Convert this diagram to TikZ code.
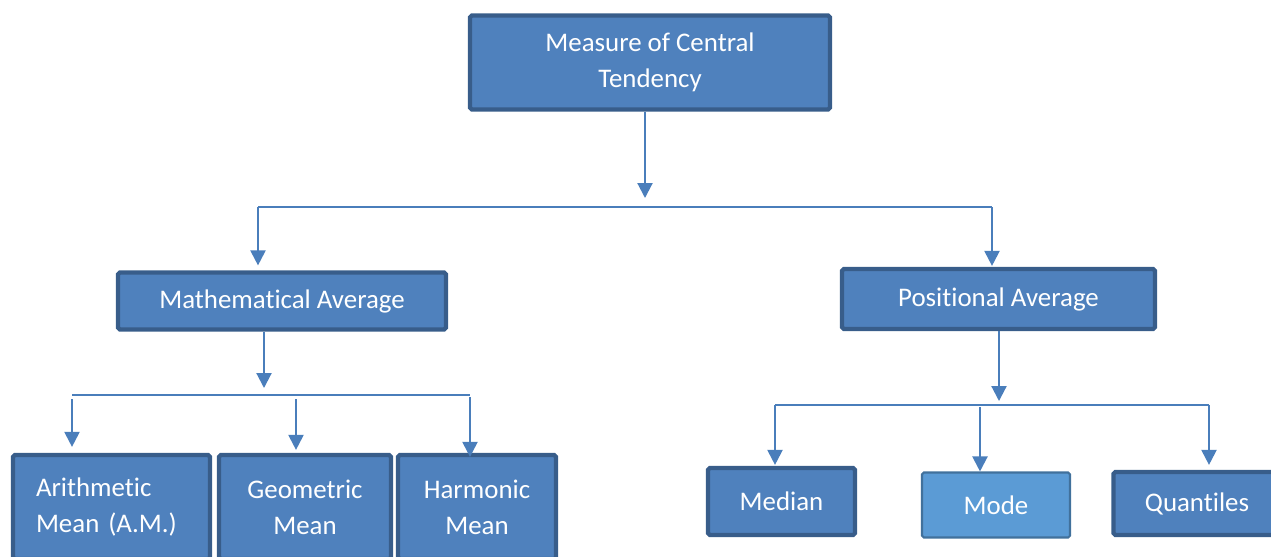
\documentclass[tikz,border=0pt]{standalone}
\usepackage{fontspec}
\setmainfont{Carlito}[RawFeature={-liga;-clig;-calt;-dlig}]
\usetikzlibrary{arrows.meta}
\definecolor{boxfill}{RGB}{79,129,189}
\definecolor{boxline}{RGB}{56,93,138}
\definecolor{modefill}{RGB}{91,155,213}
\definecolor{modeline}{RGB}{65,113,156}
\definecolor{wirecol}{RGB}{74,126,187}

\begin{document}
\begin{tikzpicture}[
        x=0.02cm, y=-0.02cm,
        every node/.style = {rectangle, rounded corners=1pt, text=white, align=center,
          font=\fontsize{15.3}{20.5}\selectfont},
        box/.style = {draw=boxline, fill=boxfill, line width=2.4pt},
        lightbox/.style = {draw=modeline, fill=modefill, line width=1.2pt},
        wire/.style = {draw=wirecol, line width=1.2pt},
        arrow/.style = {wire, -{Triangle[width=0.3cm, length=0.3cm]}},
      ]
      \useasboundingbox (0,0) rectangle (1271,556);

      \node[box, minimum width=7.2cm, minimum height=1.88cm] (mct) at (650,62.5) {Measure of Central\\Tendency};

      \node[box, minimum width=6.56cm, minimum height=1.14cm] (math) at (282,301) {Mathematical Average};
      \node[box, minimum width=6.26cm, minimum height=1.2cm] (pos) at (998.5,299) {Positional Average};

      \node[box, minimum width=3.94cm, minimum height=2.08cm, text width=3.02cm, align=left] (am) at (111.5,507) {Arithmetic\\Mean (A.M.)};
      \node[box, minimum width=3.44cm, minimum height=2.08cm] (gm) at (305,507) {Geometric\\Mean};
      \node[box, minimum width=3.16cm, minimum height=2.08cm] (hm) at (477,507) {Harmonic\\Mean};

      \node[box, minimum width=2.94cm, minimum height=1.34cm] (median) at (781.5,501.5) {Median};
      \node[lightbox, minimum width=2.96cm, minimum height=1.3cm] (mode) at (996,505) {Mode};
      \node[box, minimum width=3.34cm, minimum height=1.26cm] (quant) at (1197,503.5) {Quantiles};

      \coordinate (bus1m) at (645,207);
      \coordinate (bus1w) at (258,207);
      \coordinate (bus1e) at (992,207);
      \coordinate (bus2m) at (264,395);
      \coordinate (bus2a) at (72,395);
      \coordinate (bus2g) at (296,395);
      \coordinate (bus2h) at (470,395);
      \coordinate (bus3m) at (999,405);
      \coordinate (bus3a) at (775,405);
      \coordinate (bus3b) at (980,405);
      \coordinate (bus3c) at (1209,405);

      \draw[arrow, shorten >=0.18cm] (mct.south -| bus1m) -- (bus1m);
      \draw[wire] (bus1w) -- (bus1e);
      \draw[arrow, shorten >=0.1cm] (bus1w) -- (bus1w |- math.north);
      \draw[arrow, shorten >=0.02cm] (bus1e) -- (bus1e |- pos.north);

      \draw[arrow, shorten >=0.14cm] (math.south -| bus2m) -- (bus2m);
      \draw[wire] (bus2a) -- (bus2h);
      \draw[arrow, shorten <=0.08cm, shorten >=0.12cm] (bus2a) -- (bus2a |- am.north);
      \draw[arrow, shorten <=0.08cm, shorten >=0.06cm] (bus2g) -- (bus2g |- gm.north);
      \draw[arrow, shorten <=0.04cm, shorten >=-0.08cm] (bus2h) -- (bus2h |- hm.north);

      \draw[arrow, shorten >=0.08cm] (pos.south -| bus3m) -- (bus3m);
      \draw[wire] (bus3a) -- (bus3c);
      \draw[arrow, shorten >=0.02cm] (bus3a) -- (bus3a |- median.north);
      \draw[arrow, shorten <=0.04cm] (bus3b) -- (bus3b |- mode.north);
      \draw[arrow, shorten >=0.1cm] (bus3c) -- (bus3c |- quant.north);

    \end{tikzpicture}
\end{document}
